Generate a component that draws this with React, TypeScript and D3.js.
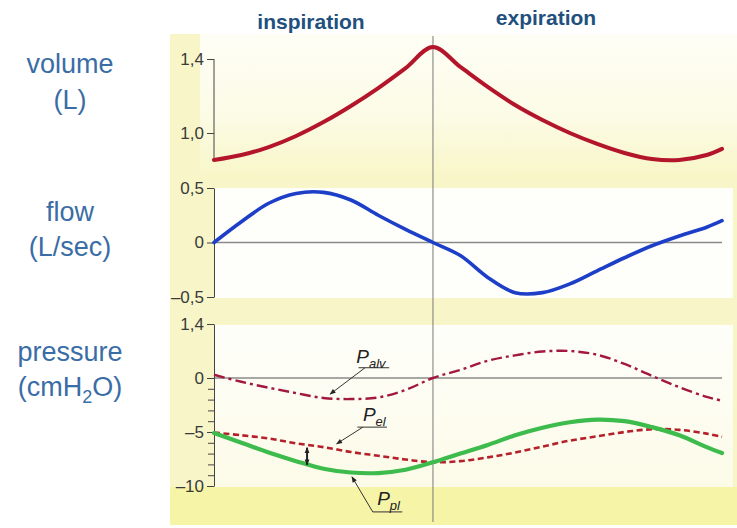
import { useEffect, useRef } from 'react';
import * as d3 from 'd3';

// temps (s) le long du cycle respiratoire
const time = [0, 0.25, 0.5, 0.75, 1, 1.25, 1.5, 1.75, 2, 2.25, 2.5, 2.75, 3, 3.25, 3.5, 3.75, 4, 4.25, 4.5, 4.64];
const volume = [0.854, 0.881, 0.924, 0.984, 1.059, 1.146, 1.243, 1.351, 1.465, 1.357, 1.249, 1.151, 1.07, 1.0, 0.941, 0.892, 0.859, 0.854, 0.881, 0.914];
const flow = [0, 0.19, 0.36, 0.45, 0.46, 0.39, 0.25, 0.12, 0, -0.12, -0.32, -0.46, -0.46, -0.38, -0.26, -0.14, -0.03, 0.06, 0.14, 0.2];
const pAlv = [0.3, -0.35, -0.9, -1.4, -1.85, -1.95, -1.8, -1.1, 0, 0.75, 1.6, 2.1, 2.45, 2.5, 2.15, 1.3, 0.2, -0.85, -1.75, -2.1];
const pEl = [-5.05, -5.3, -5.6, -6.05, -6.4, -6.85, -7.2, -7.55, -7.8, -7.7, -7.35, -6.9, -6.35, -5.8, -5.4, -5.0, -4.75, -4.8, -5.15, -5.45];
const pPl = [-5.1, -6.0, -6.9, -7.7, -8.4, -8.75, -8.8, -8.5, -7.8, -7.0, -6.2, -5.3, -4.6, -4.1, -3.85, -4.0, -4.55, -5.3, -6.4, -6.95];

const volumeTicks = [1.4, 1.0];
const volumeTickLabels = ['1,4', '1,0'];
const flowTicks = [0.5, 0, -0.5];
const flowTickLabels = ['0,5', '0', '–0,5'];
const pressureTicks = [5, 0, -5, -10];
const pressureTickLabels = ['1,4', '0', '–5', '–10'];
const pressureMinorTicks = [-1, -2, -3, -4, -6, -7, -8, -9];

const phaseLabels = ['inspiration', 'expiration'];

export default function App() {
  const ref = useRef<SVGSVGElement>(null);

  useEffect(() => {
    if (!ref.current) return;
    const svg = d3.select(ref.current);
    svg.selectAll('*').remove();

    const font = '"Liberation Sans", Arial, sans-serif';

    // échelles
    const x = d3.scaleLinear().domain([0, 4.64]).range([214, 722]);
    const yVol = d3.scaleLinear().domain([1.0, 1.4]).range([133, 59]);
    const yFlow = d3.scaleLinear().domain([-0.5, 0.5]).range([297, 188]);
    const yPres = d3.scaleLinear().domain([-10, 5]).range([486, 324]);

    // fonds jaunes / blancs
    const defs = svg.append('defs');
    const g1 = defs.append('linearGradient').attr('id', 'volBg').attr('x1', 0).attr('y1', 0).attr('x2', 0).attr('y2', 1);
    g1.append('stop').attr('offset', '0%').attr('stop-color', '#fefef6');
    g1.append('stop').attr('offset', '55%').attr('stop-color', '#fcfbe6');
    g1.append('stop').attr('offset', '100%').attr('stop-color', '#f8f6c6');
    const g2 = defs.append('linearGradient').attr('id', 'presBg').attr('x1', 0).attr('y1', 0).attr('x2', 0).attr('y2', 1);
    g2.append('stop').attr('offset', '0%').attr('stop-color', '#fefefa');
    g2.append('stop').attr('offset', '100%').attr('stop-color', '#fcfbe8');

    defs.append('marker')
      .attr('id', 'arr')
      .attr('viewBox', '0 0 10 10')
      .attr('refX', 9).attr('refY', 5)
      .attr('markerWidth', 9).attr('markerHeight', 6)
      .attr('orient', 'auto-start-reverse')
      .attr('markerUnits', 'userSpaceOnUse')
      .append('path').attr('d', 'M0,1 L10,5 L0,9 Z').attr('fill', '#222');

    svg.append('rect').attr('x', 170).attr('y', 34).attr('width', 567).attr('height', 491).attr('fill', '#f8f6c8');
    svg.append('rect').attr('x', 200).attr('y', 34).attr('width', 537).attr('height', 146).attr('fill', 'url(#volBg)');
    svg.append('rect').attr('x', 215).attr('y', 188).attr('width', 518).attr('height', 110).attr('fill', '#fefefa');
    svg.append('rect').attr('x', 215).attr('y', 325).attr('width', 518).attr('height', 162).attr('fill', 'url(#presBg)');
    svg.append('rect').attr('x', 170).attr('y', 487).attr('width', 567).attr('height', 38).attr('fill', '#f6f4a6');

    // libellés de gauche
    const leftLabel = (lines: string[], ys: number[]) => {
      lines.forEach((l, i) => {
        svg.append('text')
          .attr('x', 70).attr('y', ys[i])
          .attr('text-anchor', 'middle')
          .style('font-family', font).style('font-size', '27px')
          .attr('fill', '#3a6da5')
          .text(l);
      });
    };
    leftLabel(['volume', '(L)'], [73, 109]);
    leftLabel(['flow', '(L/sec)'], [221, 256]);
    svg.append('text')
      .attr('x', 70).attr('y', 361)
      .attr('text-anchor', 'middle')
      .style('font-family', font).style('font-size', '27px')
      .attr('fill', '#3a6da5')
      .text('pressure');
    const cm = svg.append('text')
      .attr('x', 70).attr('y', 396)
      .attr('text-anchor', 'middle')
      .style('font-family', font).style('font-size', '27px')
      .attr('fill', '#3a6da5');
    cm.append('tspan').text('(cmH');
    cm.append('tspan').attr('dy', 7).style('font-size', '18px').text('2');
    cm.append('tspan').attr('dy', -7).text('O)');

    // titres des phases
    svg.append('text').attr('x', 311).attr('y', 29).attr('text-anchor', 'middle')
      .style('font-family', font).style('font-size', '21px').style('font-weight', 'bold')
      .attr('fill', '#22507e').text(phaseLabels[0]);
    svg.append('text').attr('x', 546).attr('y', 25).attr('text-anchor', 'middle')
      .style('font-family', font).style('font-size', '21px').style('font-weight', 'bold')
      .attr('fill', '#22507e').text(phaseLabels[1]);

    // lignes de référence
    svg.append('line').attr('x1', x(2)).attr('x2', x(2)).attr('y1', 36).attr('y2', 522)
      .attr('stroke', '#7a7a7a').attr('stroke-width', 1);
    svg.append('line').attr('x1', x(0)).attr('x2', x(4.64)).attr('y1', yFlow(0)).attr('y2', yFlow(0))
      .attr('stroke', '#8a8a8a').attr('stroke-width', 1.3);
    svg.append('line').attr('x1', x(0)).attr('x2', x(4.64)).attr('y1', yPres(0)).attr('y2', yPres(0))
      .attr('stroke', '#8a8a8a').attr('stroke-width', 1.3);

    // axes
    const styleAxis = (g: any) => {
      g.selectAll('text').style('font-family', font).style('font-size', '17px').attr('fill', '#3a3a3a');
      g.selectAll('line').attr('stroke', '#444');
      g.select('.domain').attr('stroke', '#444');
    };
    const axVol = svg.append('g').attr('transform', `translate(${x(0)},0)`)
      .call(d3.axisLeft(yVol).tickValues(volumeTicks).tickFormat((_, i) => volumeTickLabels[i]).tickSize(7).tickPadding(3));
    axVol.select('.domain').remove();
    axVol.append('line').attr('x1', 0).attr('x2', 0).attr('y1', yVol(1.4)).attr('y2', yVol(volume[0])).attr('stroke', '#444');
    styleAxis(axVol);

    const axFlow = svg.append('g').attr('transform', `translate(${x(0)},0)`)
      .call(d3.axisLeft(yFlow).tickValues(flowTicks).tickFormat((_, i) => flowTickLabels[i]).tickSize(7).tickSizeOuter(0).tickPadding(3));
    styleAxis(axFlow);

    const axPres = svg.append('g').attr('transform', `translate(${x(0)},0)`)
      .call(d3.axisLeft(yPres).tickValues(pressureTicks).tickFormat((_, i) => pressureTickLabels[i]).tickSize(7).tickSizeOuter(0).tickPadding(3));
    styleAxis(axPres);
    const axMinor = svg.append('g').attr('transform', `translate(${x(0)},0)`)
      .call(d3.axisLeft(yPres).tickValues(pressureMinorTicks).tickFormat(() => '').tickSize(6).tickSizeOuter(0));
    axMinor.select('.domain').remove();
    styleAxis(axMinor);

    // courbes
    const curve = d3.curveCatmullRom.alpha(0.5);
    const draw = (vals: number[], y: any, color: string, width: number, dash?: string) => {
      const line = d3.line<number>()
        .x((_, i) => x(time[i]))
        .y(d => y(d))
        .curve(curve);
      svg.append('path')
        .attr('d', line(vals))
        .attr('fill', 'none')
        .attr('stroke', color)
        .attr('stroke-width', width)
        .attr('stroke-linecap', dash ? 'butt' : 'round')
        .attr('stroke-dasharray', dash || null);
    };
    draw(volume, yVol, '#b3162b', 4);
    draw(flow, yFlow, '#1d3fc8', 3.6);
    draw(pAlv, yPres, '#a3183e', 2.4, '11,4,3,4');
    draw(pEl, yPres, '#b5202a', 2.6, '6,3.5');
    draw(pPl, yPres, '#3dbb4c', 4.2);

    // annotations P_alv, P_el, P_pl
    const notes = [
      { main: 'P', sub: 'alv', tip: [1.06, -1.5], from: [1.38, 0.95], underline: [1.32, 1.6], text: [1.30, 1.4] },
      { main: 'P', sub: 'el', tip: [1.12, -6.1], from: [1.36, -4.55], underline: [1.31, 1.58], text: [1.36, -4.0] },
      { main: 'P', sub: 'pl', tip: [1.26, -9.15], from: [1.45, -12.4], underline: [1.45, 1.72], text: [1.49, -11.75] },
    ];
    notes.forEach(n => {
      svg.append('line')
        .attr('x1', x(n.underline[0])).attr('x2', x(n.underline[1]))
        .attr('y1', yPres(n.from[1])).attr('y2', yPres(n.from[1]))
        .attr('stroke', '#333').attr('stroke-width', 1);
      svg.append('line')
        .attr('x1', x(n.from[0])).attr('y1', yPres(n.from[1]))
        .attr('x2', x(n.tip[0])).attr('y2', yPres(n.tip[1]))
        .attr('stroke', '#333').attr('stroke-width', 1)
        .attr('marker-end', 'url(#arr)');
      const t = svg.append('text')
        .attr('x', x(n.text[0])).attr('y', yPres(n.text[1]))
        .style('font-family', font).style('font-style', 'italic')
        .style('font-size', '19px').attr('fill', '#222');
      t.append('tspan').text(n.main);
      t.append('tspan').attr('dy', 5).style('font-size', '13px').text(n.sub);
    });

    // double flèche entre P_el et P_pl
    svg.append('line')
      .attr('x1', x(0.85)).attr('x2', x(0.85))
      .attr('y1', yPres(-6.45)).attr('y2', yPres(-8.05))
      .attr('stroke', '#222').attr('stroke-width', 2)
      .attr('marker-start', 'url(#arr)').attr('marker-end', 'url(#arr)');
  }, []);

  return (
    <svg
      ref={ref}
      width={737}
      height={528}
      style={{ position: 'absolute', left: 0, top: 0, background: '#fff' }}
    />
  );
}
